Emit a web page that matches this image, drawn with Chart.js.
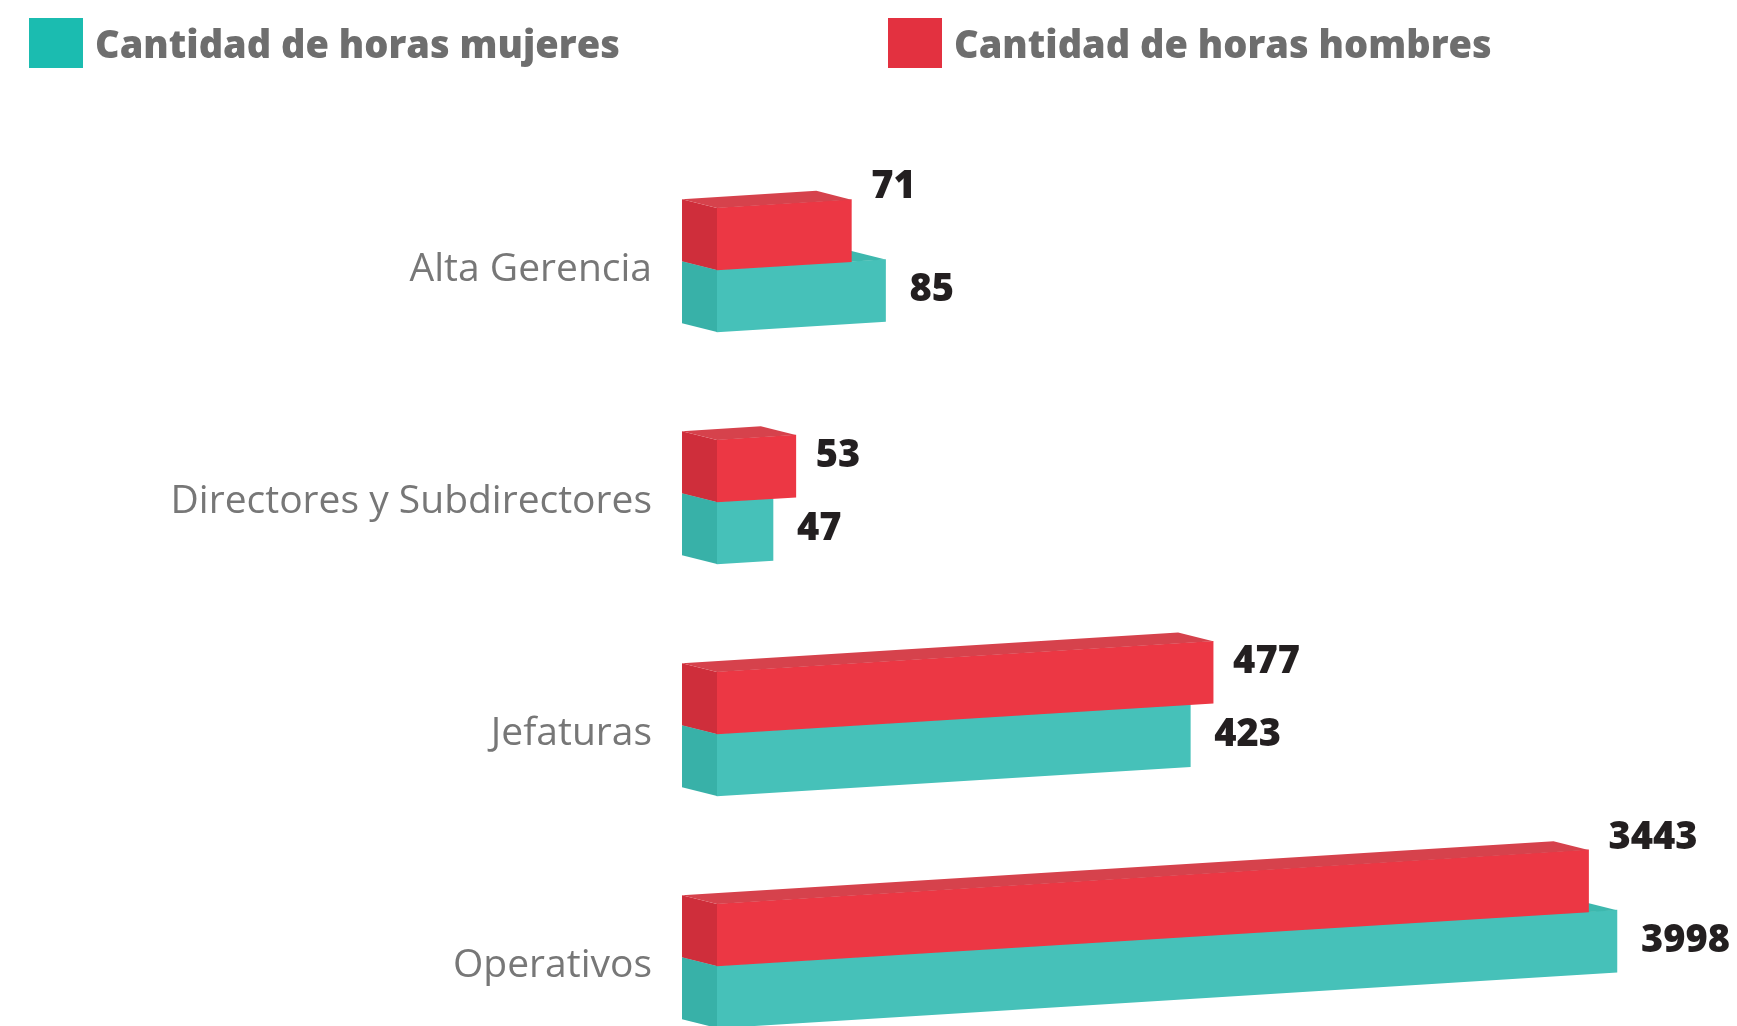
<!DOCTYPE html>
<html>
<head>
<meta charset="utf-8">
<script src="https://cdn.jsdelivr.net/npm/chart.js@4.4.1/dist/chart.umd.min.js"></script>
<style>
  html, body { margin: 0; padding: 0; background: #fff; }
  #wrap { position: relative; width: 1737px; height: 1026px; }
  #barChart { position: absolute; left: 0; top: 0; }
  #legend { position: absolute; left: 0; top: 0; width: 100%; height: 90px;
            font-family: "Open Sans", Lato, sans-serif; font-weight: 800; font-size: 38px; color: #6e6e6e; }
  .item { position: absolute; top: 18px; height: 50px; display: flex; align-items: center; white-space: nowrap; }
  .swatch { width: 54px; height: 50px; margin-right: 12px; }
</style>
</head>
<body>
<div id="wrap">
  <canvas id="barChart" width="1737" height="1026"></canvas>
  <div id="legend"></div>
</div>
<script>
const categories = ['Alta Gerencia', 'Directores y Subdirectores', 'Jefaturas', 'Operativos'];
const horasHombres = [71, 53, 477, 3443];
const horasMujeres = [85, 47, 423, 3998];

// bars lean upward to the right, with a short extrusion to the upper left
const SKEW = 0.062;
const DEPTH_X = -35;
const DEPTH_Y = -11;

const ctx = document.getElementById('barChart');

const bars3d = {
    id: 'bars3d',
    beforeDatasetsDraw(chart) {
        const c = chart.ctx;
        c.save();
        c.transform(1, -SKEW, 0, 1, 0, SKEW * chart.chartArea.left);
    },
    afterDatasetDraw(chart, args) {
        const c = chart.ctx;
        const ds = chart.data.datasets[args.index];
        args.meta.data.forEach(bar => {
            const p = bar.getProps(['x', 'y', 'base', 'height'], true);
            const top = p.y - p.height / 2;
            const bottom = p.y + p.height / 2;

            c.fillStyle = ds.sideColor;
            c.beginPath();
            c.moveTo(p.base, top);
            c.lineTo(p.base + DEPTH_X, top + DEPTH_Y);
            c.lineTo(p.base + DEPTH_X, bottom + DEPTH_Y);
            c.lineTo(p.base, bottom);
            c.closePath();
            c.fill();

            c.fillStyle = ds.topColor;
            c.beginPath();
            c.moveTo(p.base, top);
            c.lineTo(p.x, top);
            c.lineTo(p.x + DEPTH_X, top + DEPTH_Y);
            c.lineTo(p.base + DEPTH_X, top + DEPTH_Y);
            c.closePath();
            c.fill();
        });
    },
    afterDatasetsDraw(chart) {
        const c = chart.ctx;
        c.restore();

        const left = chart.chartArea.left;
        const redMeta = chart.getDatasetMeta(0);
        const tealMeta = chart.getDatasetMeta(1);

        c.save();
        c.font = '800 38px "Open Sans", Lato, sans-serif';
        c.fillStyle = '#231f20';
        c.textAlign = 'left';
        c.textBaseline = 'middle';

        tealMeta.data.forEach((bar, j) => {
            const y = bar.y - SKEW * (bar.x - left);
            c.fillText(horasMujeres[j], bar.x + 24, y);
        });
        redMeta.data.forEach((bar, j) => {
            const lift = SKEW * (bar.x - left);
            let y = bar.y - lift - 10;
            if (tealMeta.data[j].x > bar.x + 20) {
                y = bar.y - bar.height / 2 - lift - 12;
            }
            c.fillText(horasHombres[j], bar.x + 20, y);
        });
        c.restore();
    }
};

const chart = new Chart(ctx, {
    type: 'bar',
    data: {
        labels: categories,
        datasets: [{
            label: 'Cantidad de horas hombres',
            data: horasHombres,
            backgroundColor: '#ec3744',
            sideColor: '#cf2e3b',
            topColor: '#d6424c',
            legendColor: '#e33140',
            barThickness: 62,
            clip: false
        }, {
            label: 'Cantidad de horas mujeres',
            data: horasMujeres,
            backgroundColor: '#46c1b9',
            sideColor: '#38b1a8',
            topColor: '#3db8ae',
            legendColor: '#1bbcb0',
            barThickness: 62,
            clip: false
        }]
    },
    options: {
        indexAxis: 'y',
        responsive: false,
        animation: false,
        events: [],
        layout: { padding: { top: 270, bottom: 60, left: 0, right: 120 } },
        scales: {
            x: {
                type: 'logarithmic',
                min: 35,
                max: 4000,
                display: false
            },
            y: {
                offset: false,
                grid: { display: false },
                border: { display: false },
                ticks: {
                    padding: 57,
                    color: '#777777',
                    font: { family: '"Open Sans", Lato, sans-serif', size: 39, weight: 400 }
                },
                afterFit(scale) {
                    scale.width = 717;
                    scale.paddingTop = 0;
                    scale.paddingBottom = 0;
                }
            }
        },
        plugins: {
            legend: { display: false },
            tooltip: { enabled: false }
        }
    },
    plugins: [bars3d]
});

// legend: mujeres first, hombres second
const legendEl = document.getElementById('legend');
const legendX = [29, 888];
[1, 0].forEach((i, k) => {
    const ds = chart.data.datasets[i];
    const item = document.createElement('div');
    item.className = 'item';
    item.style.left = legendX[k] + 'px';
    item.innerHTML = '<div class="swatch" style="background:' + ds.legendColor + '"></div><span>' + ds.label + '</span>';
    legendEl.appendChild(item);
});
</script>
</body>
</html>
